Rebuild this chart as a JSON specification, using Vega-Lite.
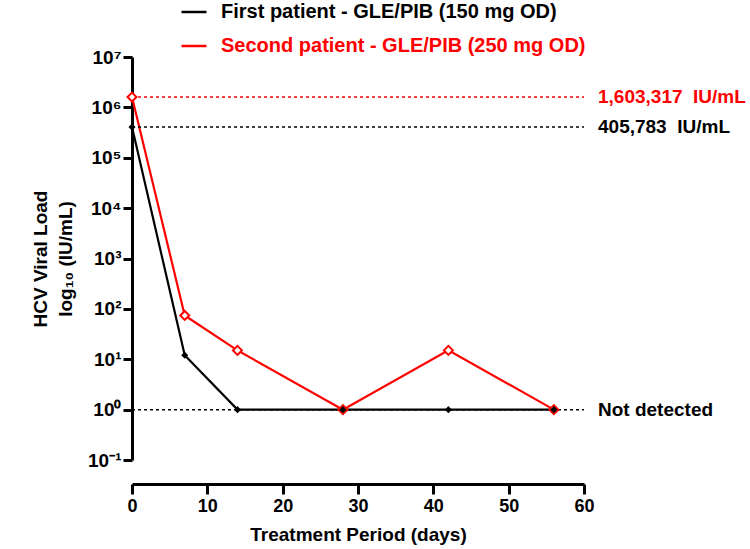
{
  "$schema": "https://vega.github.io/schema/vega-lite/v6.json",
  "autosize": "none",
  "width": 452,
  "height": 403,
  "padding": {"left": 132, "top": 57, "right": 166, "bottom": 89},
  "background": "white",
  "config": {
    "view": {"stroke": null},
    "font": "Liberation Sans",
    "axis": {
      "grid": false,
      "domainColor": "black",
      "domainWidth": 3,
      "tickColor": "black",
      "tickWidth": 3,
      "tickSize": 9,
      "labelFlush": false,
      "labelFont": "Liberation Sans",
      "labelFontWeight": "bold",
      "labelFontSize": 18,
      "labelColor": "black",
      "titleFont": "Liberation Sans",
      "titleFontWeight": "bold",
      "titleFontSize": 19,
      "titleColor": "black"
    }
  },
  "datasets": {
    "series": [
      {"day": 0, "load": 405783, "patient": "First patient - GLE/PIB (150 mg OD)"},
      {"day": 7, "load": 12, "patient": "First patient - GLE/PIB (150 mg OD)"},
      {"day": 14, "load": 1, "patient": "First patient - GLE/PIB (150 mg OD)"},
      {"day": 28, "load": 1, "patient": "First patient - GLE/PIB (150 mg OD)"},
      {"day": 42, "load": 1, "patient": "First patient - GLE/PIB (150 mg OD)"},
      {"day": 56, "load": 1, "patient": "First patient - GLE/PIB (150 mg OD)"},
      {"day": 0, "load": 1603317, "patient": "Second patient - GLE/PIB (250 mg OD)"},
      {"day": 7, "load": 74, "patient": "Second patient - GLE/PIB (250 mg OD)"},
      {"day": 14, "load": 15, "patient": "Second patient - GLE/PIB (250 mg OD)"},
      {"day": 28, "load": 1, "patient": "Second patient - GLE/PIB (250 mg OD)"},
      {"day": 42, "load": 15, "patient": "Second patient - GLE/PIB (250 mg OD)"},
      {"day": 56, "load": 1, "patient": "Second patient - GLE/PIB (250 mg OD)"}
    ],
    "refs": [
      {"value": 1603317, "label": "1,603,317\u00a0\u00a0IU/mL", "group": "second"},
      {"value": 405783, "label": "405,783\u00a0\u00a0IU/mL", "group": "first"},
      {"value": 1, "label": "Not detected", "group": "none"}
    ]
  },
  "layer": [
    {
      "data": {"name": "series"},
      "mark": {"type": "line", "strokeWidth": 2.2},
      "encoding": {
        "x": {
          "field": "day", "type": "quantitative",
          "scale": {"domain": [0, 60], "nice": false, "zero": false},
          "axis": {"values": [0, 10, 20, 30, 40, 50, 60], "offset": 24, "tickSize": 10, "labelPadding": 3, "labelFontSize": 18, "title": "Treatment Period (days)", "titlePadding": 10}
        },
        "y": {
          "field": "load", "type": "quantitative",
          "scale": {"type": "log", "domain": [0.1, 10000000], "nice": false},
          "axis": {
            "values": [0.1, 1, 10, 100, 1000, 10000, 100000, 1000000, 10000000],
            "labelExpr": "datum.value < 0.5 ? '10⁻¹' : datum.value < 5 ? '10⁰' : datum.value < 50 ? '10¹' : datum.value < 500 ? '10²' : datum.value < 5000 ? '10³' : datum.value < 50000 ? '10⁴' : datum.value < 500000 ? '10⁵' : datum.value < 5000000 ? '10⁶' : '10⁷'",
            "domainColor": "black",
            "tickColor": "black",
            "labelFontSize": 19,
            "labelPadding": 2,
            "title": ["HCV Viral Load", "log₁₀ (IU/mL)"],
            "titleLineHeight": 25,
            "titlePadding": 12
          }
        },
        "color": {
          "field": "patient", "type": "nominal",
          "scale": {"domain": ["First patient - GLE/PIB (150 mg OD)", "Second patient - GLE/PIB (250 mg OD)"], "range": ["black", "red"]},
          "legend": {
            "title": null,
            "orient": "none",
            "legendX": 48,
            "legendY": -59,
            "padding": 0,
            "symbolType": "stroke",
            "symbolSize": 625,
            "symbolStrokeWidth": 2.5,
            "labelFont": "Liberation Sans",
            "labelFontWeight": "bold",
            "labelFontSize": 20,
            "labelOffset": 13,
            "labelLimit": 500,
            "rowPadding": 10,
            "encode": {"labels": {"update": {"fill": {"signal": "indexof(datum.label, 'Second') >= 0 ? 'red' : 'black'"}}}}
          }
        }
      }
    },
    {
      "data": {"name": "refs"},
      "mark": {"type": "rule", "strokeDash": [3, 3], "strokeWidth": 1.5},
      "encoding": {
        "x": {"datum": 0, "type": "quantitative"},
        "x2": {"datum": 60},
        "y": {"field": "value", "type": "quantitative"},
        "color": {"condition": {"test": "datum.group === 'second'", "value": "red"}, "value": "black"}
      }
    },
    {
      "data": {"name": "refs"},
      "mark": {"type": "text", "align": "left", "baseline": "middle", "dx": 14, "fontSize": 19, "fontWeight": "bold", "font": "Liberation Sans"},
      "encoding": {
        "x": {"datum": 60, "type": "quantitative"},
        "y": {"field": "value", "type": "quantitative"},
        "text": {"field": "label"},
        "color": {"condition": {"test": "datum.group === 'second'", "value": "red"}, "value": "black"}
      }
    },
    {
      "data": {"name": "series"},
      "transform": [{"filter": "indexof(datum.patient, 'Second') >= 0"}],
      "mark": {"type": "point", "shape": "diamond", "filled": true, "fill": "white", "stroke": "red", "strokeWidth": 2, "size": 80, "opacity": 1},
      "encoding": {
        "x": {"field": "day", "type": "quantitative"},
        "y": {"field": "load", "type": "quantitative"}
      }
    },
    {
      "data": {"name": "series"},
      "transform": [{"filter": "indexof(datum.patient, 'First') >= 0"}],
      "mark": {"type": "point", "shape": "diamond", "filled": true, "color": "black", "size": 50, "opacity": 1},
      "encoding": {
        "x": {"field": "day", "type": "quantitative"},
        "y": {"field": "load", "type": "quantitative"}
      }
    }
  ]
}
